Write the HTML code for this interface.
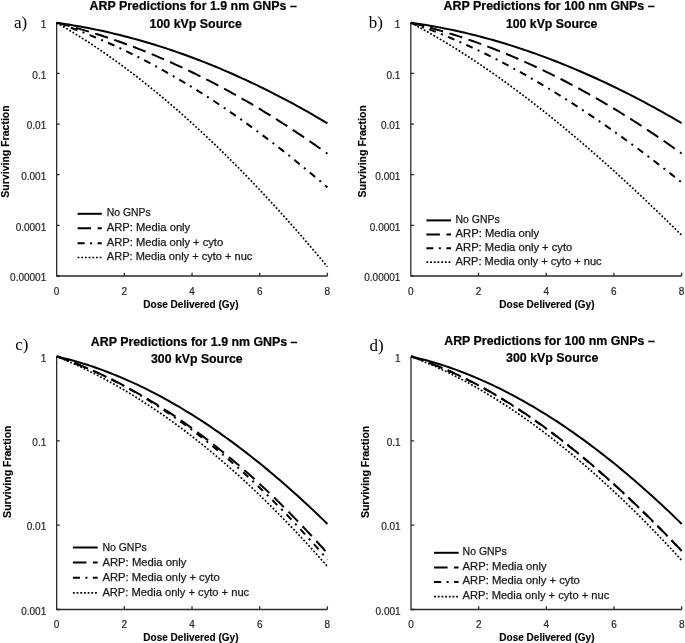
<!DOCTYPE html><html><head><meta charset="utf-8"><style>html,body{margin:0;padding:0;background:#fff;}svg{display:block;filter:blur(0.35px);}</style></head><body>
<svg width="685" height="643" viewBox="0 0 685 643">
<rect width="685" height="643" fill="#fff"/>
<style>.tl{font:10px "Liberation Sans",sans-serif;fill:#262626;stroke:#262626;stroke-width:0.2px}.lg{font:10.5px "Liberation Sans",sans-serif;fill:#1a1a1a;stroke:#1a1a1a;stroke-width:0.25px}.tt{font:bold 12px "Liberation Sans",sans-serif;fill:#000;stroke:#000;stroke-width:0.2px}.at{font:bold 10.6px "Liberation Sans",sans-serif;fill:#000;stroke:#000;stroke-width:0.15px}.pl{font:17px "Liberation Serif",serif;fill:#000}</style>
<g><path d="M56.65 22.80V276.00H327.40" fill="none" stroke="#2b2b2b" stroke-width="1.3"/><path d="M56.65 22.80h3.2 M56.65 73.44h3.2 M56.65 124.08h3.2 M56.65 174.72h3.2 M56.65 225.36h3.2 M56.65 276.00h3.2 M124.34 276.00v-3.2 M192.03 276.00v-3.2 M259.71 276.00v-3.2 M327.40 276.00v-3.2" stroke="#2b2b2b" stroke-width="1.3"/><text x="46.25" y="28.10" text-anchor="end" class="tl">1</text><text x="46.25" y="78.74" text-anchor="end" class="tl">0.1</text><text x="46.25" y="129.38" text-anchor="end" class="tl">0.01</text><text x="46.25" y="180.02" text-anchor="end" class="tl">0.001</text><text x="46.25" y="230.66" text-anchor="end" class="tl">0.0001</text><text x="46.25" y="281.30" text-anchor="end" class="tl">0.00001</text><text x="56.65" y="294.90" text-anchor="middle" class="tl">0</text><text x="124.34" y="294.90" text-anchor="middle" class="tl">2</text><text x="192.03" y="294.90" text-anchor="middle" class="tl">4</text><text x="259.71" y="294.90" text-anchor="middle" class="tl">6</text><text x="327.40" y="294.90" text-anchor="middle" class="tl">8</text><path d="M56.65 22.80 L60.03 23.28 L63.42 23.78 L66.80 24.29 L70.19 24.83 L73.57 25.39 L76.96 25.97 L80.34 26.57 L83.72 27.19 L87.11 27.83 L90.49 28.49 L93.88 29.16 L97.26 29.86 L100.65 30.58 L104.03 31.32 L107.42 32.08 L110.80 32.86 L114.18 33.66 L117.57 34.48 L120.95 35.32 L124.34 36.18 L127.72 37.05 L131.11 37.95 L134.49 38.87 L137.88 39.81 L141.26 40.77 L144.64 41.74 L148.03 42.74 L151.41 43.76 L154.80 44.79 L158.18 45.85 L161.57 46.92 L164.95 48.02 L168.33 49.14 L171.72 50.27 L175.10 51.42 L178.49 52.60 L181.87 53.79 L185.26 55.00 L188.64 56.24 L192.03 57.49 L195.41 58.76 L198.79 60.05 L202.18 61.36 L205.56 62.69 L208.95 64.04 L212.33 65.40 L215.72 66.79 L219.10 68.20 L222.48 69.62 L225.87 71.07 L229.25 72.53 L232.64 74.02 L236.02 75.52 L239.41 77.04 L242.79 78.58 L246.17 80.14 L249.56 81.72 L252.94 83.32 L256.33 84.94 L259.71 86.58 L263.10 88.23 L266.48 89.91 L269.87 91.60 L273.25 93.31 L276.63 95.04 L280.02 96.79 L283.40 98.56 L286.79 100.35 L290.17 102.16 L293.56 103.99 L296.94 105.83 L300.32 107.69 L303.71 109.58 L307.09 111.48 L310.48 113.40 L313.86 115.34 L317.25 117.30 L320.63 119.27 L324.02 121.27 L327.40 123.28" fill="none" stroke="#000" stroke-width="2" stroke-dashoffset="0"/><path d="M56.65 22.80 L60.03 23.64 L63.42 24.50 L66.80 25.39 L70.19 26.29 L73.57 27.21 L76.96 28.16 L80.34 29.12 L83.72 30.10 L87.11 31.11 L90.49 32.13 L93.88 33.18 L97.26 34.24 L100.65 35.32 L104.03 36.43 L107.42 37.55 L110.80 38.70 L114.18 39.87 L117.57 41.05 L120.95 42.26 L124.34 43.48 L127.72 44.73 L131.11 46.00 L134.49 47.28 L137.88 48.59 L141.26 49.91 L144.64 51.26 L148.03 52.63 L151.41 54.02 L154.80 55.42 L158.18 56.85 L161.57 58.30 L164.95 59.76 L168.33 61.25 L171.72 62.76 L175.10 64.29 L178.49 65.83 L181.87 67.40 L185.26 68.99 L188.64 70.60 L192.03 72.23 L195.41 73.87 L198.79 75.54 L202.18 77.23 L205.56 78.94 L208.95 80.67 L212.33 82.41 L215.72 84.18 L219.10 85.97 L222.48 87.78 L225.87 89.61 L229.25 91.45 L232.64 93.32 L236.02 95.21 L239.41 97.12 L242.79 99.05 L246.17 100.99 L249.56 102.96 L252.94 104.95 L256.33 106.96 L259.71 108.98 L263.10 111.03 L266.48 113.10 L269.87 115.19 L273.25 117.29 L276.63 119.42 L280.02 121.57 L283.40 123.73 L286.79 125.92 L290.17 128.13 L293.56 130.35 L296.94 132.60 L300.32 134.86 L303.71 137.15 L307.09 139.46 L310.48 141.78 L313.86 144.13 L317.25 146.49 L320.63 148.88 L324.02 151.28 L327.40 153.71" fill="none" stroke="#000" stroke-width="2" stroke-dasharray="13.534 6.516" stroke-dashoffset="0.1"/><path d="M56.65 22.80 L60.03 23.94 L63.42 25.11 L66.80 26.30 L70.19 27.51 L73.57 28.75 L76.96 30.02 L80.34 31.31 L83.72 32.62 L87.11 33.96 L90.49 35.32 L93.88 36.71 L97.26 38.12 L100.65 39.55 L104.03 41.01 L107.42 42.50 L110.80 44.00 L114.18 45.53 L117.57 47.09 L120.95 48.67 L124.34 50.27 L127.72 51.90 L131.11 53.54 L134.49 55.22 L137.88 56.91 L141.26 58.63 L144.64 60.38 L148.03 62.14 L151.41 63.93 L154.80 65.75 L158.18 67.58 L161.57 69.44 L164.95 71.32 L168.33 73.23 L171.72 75.15 L175.10 77.11 L178.49 79.08 L181.87 81.07 L185.26 83.09 L188.64 85.13 L192.03 87.20 L195.41 89.28 L198.79 91.39 L202.18 93.52 L205.56 95.67 L208.95 97.84 L212.33 100.04 L215.72 102.26 L219.10 104.50 L222.48 106.76 L225.87 109.05 L229.25 111.35 L232.64 113.68 L236.02 116.03 L239.41 118.40 L242.79 120.79 L246.17 123.20 L249.56 125.64 L252.94 128.09 L256.33 130.57 L259.71 133.07 L263.10 135.59 L266.48 138.13 L269.87 140.69 L273.25 143.27 L276.63 145.88 L280.02 148.50 L283.40 151.14 L286.79 153.81 L290.17 156.50 L293.56 159.20 L296.94 161.93 L300.32 164.68 L303.71 167.44 L307.09 170.23 L310.48 173.04 L313.86 175.87 L317.25 178.72 L320.63 181.58 L324.02 184.47 L327.40 187.38" fill="none" stroke="#000" stroke-width="2" stroke-dasharray="7.018 5.514 2.005 5.514" stroke-dashoffset="5.0"/><path d="M56.65 22.80 L60.03 24.74 L63.42 26.72 L66.80 28.72 L70.19 30.75 L73.57 32.81 L76.96 34.91 L80.34 37.03 L83.72 39.18 L87.11 41.36 L90.49 43.57 L93.88 45.81 L97.26 48.08 L100.65 50.38 L104.03 52.71 L107.42 55.06 L110.80 57.45 L114.18 59.86 L117.57 62.31 L120.95 64.78 L124.34 67.28 L127.72 69.81 L131.11 72.37 L134.49 74.95 L137.88 77.57 L141.26 80.21 L144.64 82.88 L148.03 85.58 L151.41 88.30 L154.80 91.06 L158.18 93.84 L161.57 96.65 L164.95 99.49 L168.33 102.36 L171.72 105.25 L175.10 108.17 L178.49 111.12 L181.87 114.09 L185.26 117.10 L188.64 120.13 L192.03 123.18 L195.41 126.27 L198.79 129.38 L202.18 132.51 L205.56 135.68 L208.95 138.87 L212.33 142.09 L215.72 145.33 L219.10 148.60 L222.48 151.90 L225.87 155.22 L229.25 158.57 L232.64 161.95 L236.02 165.35 L239.41 168.78 L242.79 172.23 L246.17 175.71 L249.56 179.21 L252.94 182.74 L256.33 186.30 L259.71 189.88 L263.10 193.49 L266.48 197.12 L269.87 200.78 L273.25 204.46 L276.63 208.17 L280.02 211.90 L283.40 215.66 L286.79 219.44 L290.17 223.24 L293.56 227.08 L296.94 230.93 L300.32 234.81 L303.71 238.72 L307.09 242.65 L310.48 246.60 L313.86 250.58 L317.25 254.58 L320.63 258.61 L324.02 262.66 L327.40 266.73" fill="none" stroke="#000" stroke-width="1.7" stroke-dasharray="1.8 1.89" stroke-dashoffset="0"/><path d="M77.60 213.80H101.80" stroke="#000" stroke-width="2"/><text x="106.80" y="216.10" class="lg" textLength="43.90" lengthAdjust="spacingAndGlyphs">No GNPs</text><path d="M77.60 228.30H101.80" stroke="#000" stroke-width="2" stroke-dasharray="13.5 6.5"/><text x="106.80" y="230.60" class="lg" textLength="83.40" lengthAdjust="spacingAndGlyphs">ARP: Media only</text><path d="M77.60 243.20H101.80" stroke="#000" stroke-width="2" stroke-dasharray="7 5.5 2 5.5"/><text x="106.80" y="245.50" class="lg" textLength="116.40" lengthAdjust="spacingAndGlyphs">ARP: Media only + cyto</text><path d="M77.60 257.50H101.80" stroke="#000" stroke-width="1.7" stroke-dasharray="1.8 1.89"/><text x="106.80" y="259.80" class="lg" textLength="145.60" lengthAdjust="spacingAndGlyphs">ARP: Media only + cyto + nuc</text><text x="89.50" y="10.30" class="tt" textLength="207.30" lengthAdjust="spacingAndGlyphs">ARP Predictions for 1.9 nm GNPs –</text><text x="149.60" y="27.70" class="tt" textLength="92.20" lengthAdjust="spacingAndGlyphs">100 kVp Source</text><text transform="translate(9.30 151.50) rotate(-90)" x="0" y="0" text-anchor="middle" class="at" textLength="92.4" lengthAdjust="spacingAndGlyphs">Surviving Fraction</text><text x="143.30" y="308.10" class="at" textLength="95.2" lengthAdjust="spacingAndGlyphs">Dose Delivered (Gy)</text><text x="14.00" y="27.60" class="pl">a)</text></g>
<g><path d="M410.80 22.80V276.00H681.60" fill="none" stroke="#2b2b2b" stroke-width="1.3"/><path d="M410.80 22.80h3.2 M410.80 73.44h3.2 M410.80 124.08h3.2 M410.80 174.72h3.2 M410.80 225.36h3.2 M410.80 276.00h3.2 M478.50 276.00v-3.2 M546.20 276.00v-3.2 M613.90 276.00v-3.2 M681.60 276.00v-3.2" stroke="#2b2b2b" stroke-width="1.3"/><text x="400.40" y="28.10" text-anchor="end" class="tl">1</text><text x="400.40" y="78.74" text-anchor="end" class="tl">0.1</text><text x="400.40" y="129.38" text-anchor="end" class="tl">0.01</text><text x="400.40" y="180.02" text-anchor="end" class="tl">0.001</text><text x="400.40" y="230.66" text-anchor="end" class="tl">0.0001</text><text x="400.40" y="281.30" text-anchor="end" class="tl">0.00001</text><text x="410.80" y="294.90" text-anchor="middle" class="tl">0</text><text x="478.50" y="294.90" text-anchor="middle" class="tl">2</text><text x="546.20" y="294.90" text-anchor="middle" class="tl">4</text><text x="613.90" y="294.90" text-anchor="middle" class="tl">6</text><text x="681.60" y="294.90" text-anchor="middle" class="tl">8</text><path d="M410.80 22.80 L414.19 23.27 L417.57 23.76 L420.95 24.27 L424.34 24.80 L427.73 25.35 L431.11 25.93 L434.50 26.52 L437.88 27.14 L441.26 27.77 L444.65 28.43 L448.04 29.11 L451.42 29.81 L454.81 30.53 L458.19 31.27 L461.58 32.04 L464.96 32.82 L468.35 33.62 L471.73 34.44 L475.12 35.29 L478.50 36.15 L481.88 37.04 L485.27 37.94 L488.66 38.87 L492.04 39.81 L495.43 40.78 L498.81 41.76 L502.20 42.77 L505.58 43.79 L508.97 44.84 L512.35 45.90 L515.74 46.99 L519.12 48.09 L522.50 49.21 L525.89 50.36 L529.27 51.52 L532.66 52.70 L536.05 53.90 L539.43 55.12 L542.82 56.36 L546.20 57.62 L549.59 58.90 L552.97 60.20 L556.36 61.52 L559.74 62.85 L563.12 64.21 L566.51 65.58 L569.89 66.97 L573.28 68.38 L576.66 69.81 L580.05 71.26 L583.43 72.73 L586.82 74.21 L590.21 75.72 L593.59 77.24 L596.98 78.78 L600.36 80.34 L603.75 81.91 L607.13 83.51 L610.52 85.12 L613.90 86.75 L617.28 88.40 L620.67 90.07 L624.06 91.76 L627.44 93.46 L630.83 95.18 L634.21 96.92 L637.60 98.68 L640.98 100.45 L644.37 102.24 L647.75 104.05 L651.13 105.88 L654.52 107.72 L657.90 109.58 L661.29 111.46 L664.67 113.36 L668.06 115.27 L671.45 117.20 L674.83 119.15 L678.22 121.11 L681.60 123.09" fill="none" stroke="#000" stroke-width="2" stroke-dashoffset="0"/><path d="M410.80 22.80 L414.19 23.62 L417.57 24.46 L420.95 25.31 L424.34 26.19 L427.73 27.10 L431.11 28.02 L434.50 28.96 L437.88 29.93 L441.26 30.91 L444.65 31.92 L448.04 32.95 L451.42 34.00 L454.81 35.06 L458.19 36.15 L461.58 37.27 L464.96 38.40 L468.35 39.55 L471.73 40.73 L475.12 41.92 L478.50 43.14 L481.88 44.37 L485.27 45.63 L488.66 46.91 L492.04 48.21 L495.43 49.53 L498.81 50.87 L502.20 52.23 L505.58 53.61 L508.97 55.01 L512.35 56.43 L515.74 57.88 L519.12 59.34 L522.50 60.83 L525.89 62.33 L529.27 63.86 L532.66 65.40 L536.05 66.97 L539.43 68.56 L542.82 70.17 L546.20 71.80 L549.59 73.44 L552.97 75.11 L556.36 76.80 L559.74 78.51 L563.12 80.24 L566.51 81.99 L569.89 83.77 L573.28 85.56 L576.66 87.37 L580.05 89.20 L583.43 91.05 L586.82 92.93 L590.21 94.82 L593.59 96.73 L596.98 98.67 L600.36 100.62 L603.75 102.59 L607.13 104.59 L610.52 106.60 L613.90 108.63 L617.28 110.69 L620.67 112.76 L624.06 114.86 L627.44 116.97 L630.83 119.11 L634.21 121.26 L637.60 123.43 L640.98 125.63 L644.37 127.84 L647.75 130.08 L651.13 132.33 L654.52 134.60 L657.90 136.90 L661.29 139.21 L664.67 141.55 L668.06 143.90 L671.45 146.27 L674.83 148.67 L678.22 151.08 L681.60 153.51" fill="none" stroke="#000" stroke-width="2" stroke-dasharray="13.534 6.516" stroke-dashoffset="0.1"/><path d="M410.80 22.80 L414.19 23.96 L417.57 25.14 L420.95 26.35 L424.34 27.58 L427.73 28.83 L431.11 30.11 L434.50 31.42 L437.88 32.74 L441.26 34.10 L444.65 35.47 L448.04 36.87 L451.42 38.29 L454.81 39.74 L458.19 41.21 L461.58 42.70 L464.96 44.21 L468.35 45.75 L471.73 47.31 L475.12 48.89 L478.50 50.50 L481.88 52.12 L485.27 53.77 L488.66 55.44 L492.04 57.13 L495.43 58.85 L498.81 60.58 L502.20 62.34 L505.58 64.12 L508.97 65.92 L512.35 67.74 L515.74 69.58 L519.12 71.44 L522.50 73.32 L525.89 75.22 L529.27 77.14 L532.66 79.09 L536.05 81.05 L539.43 83.03 L542.82 85.03 L546.20 87.06 L549.59 89.10 L552.97 91.16 L556.36 93.24 L559.74 95.34 L563.12 97.45 L566.51 99.59 L569.89 101.75 L573.28 103.92 L576.66 106.11 L580.05 108.32 L583.43 110.55 L586.82 112.79 L590.21 115.06 L593.59 117.34 L596.98 119.64 L600.36 121.96 L603.75 124.29 L607.13 126.64 L610.52 129.01 L613.90 131.39 L617.28 133.80 L620.67 136.21 L624.06 138.65 L627.44 141.10 L630.83 143.57 L634.21 146.05 L637.60 148.55 L640.98 151.06 L644.37 153.59 L647.75 156.14 L651.13 158.70 L654.52 161.28 L657.90 163.87 L661.29 166.48 L664.67 169.10 L668.06 171.73 L671.45 174.38 L674.83 177.05 L678.22 179.73 L681.60 182.42" fill="none" stroke="#000" stroke-width="2" stroke-dasharray="7.018 5.514 2.005 5.514" stroke-dashoffset="0.42"/><path d="M410.80 22.80 L414.19 24.59 L417.57 26.41 L420.95 28.25 L424.34 30.12 L427.73 32.02 L431.11 33.94 L434.50 35.89 L437.88 37.86 L441.26 39.86 L444.65 41.88 L448.04 43.92 L451.42 45.99 L454.81 48.09 L458.19 50.21 L461.58 52.35 L464.96 54.52 L468.35 56.71 L471.73 58.92 L475.12 61.16 L478.50 63.42 L481.88 65.70 L485.27 68.00 L488.66 70.33 L492.04 72.68 L495.43 75.06 L498.81 77.45 L502.20 79.87 L505.58 82.31 L508.97 84.77 L512.35 87.25 L515.74 89.76 L519.12 92.28 L522.50 94.83 L525.89 97.40 L529.27 99.98 L532.66 102.59 L536.05 105.22 L539.43 107.87 L542.82 110.54 L546.20 113.23 L549.59 115.93 L552.97 118.66 L556.36 121.41 L559.74 124.18 L563.12 126.96 L566.51 129.77 L569.89 132.59 L573.28 135.43 L576.66 138.29 L580.05 141.17 L583.43 144.06 L586.82 146.98 L590.21 149.91 L593.59 152.86 L596.98 155.83 L600.36 158.81 L603.75 161.81 L607.13 164.83 L610.52 167.87 L613.90 170.92 L617.28 173.98 L620.67 177.07 L624.06 180.17 L627.44 183.28 L630.83 186.42 L634.21 189.56 L637.60 192.73 L640.98 195.90 L644.37 199.10 L647.75 202.31 L651.13 205.53 L654.52 208.77 L657.90 212.02 L661.29 215.28 L664.67 218.56 L668.06 221.86 L671.45 225.17 L674.83 228.49 L678.22 231.82 L681.60 235.17" fill="none" stroke="#000" stroke-width="1.7" stroke-dasharray="1.8 1.89" stroke-dashoffset="0"/><path d="M426.40 220.40H451.00" stroke="#000" stroke-width="2"/><text x="455.60" y="222.70" class="lg" textLength="44.02" lengthAdjust="spacingAndGlyphs">No GNPs</text><path d="M426.40 234.40H451.00" stroke="#000" stroke-width="2" stroke-dasharray="13.5 6.5"/><text x="455.60" y="236.70" class="lg" textLength="83.63" lengthAdjust="spacingAndGlyphs">ARP: Media only</text><path d="M426.40 248.20H451.00" stroke="#000" stroke-width="2" stroke-dasharray="7 5.5 2 5.5"/><text x="455.60" y="250.50" class="lg" textLength="116.72" lengthAdjust="spacingAndGlyphs">ARP: Media only + cyto</text><path d="M426.40 262.20H451.00" stroke="#000" stroke-width="1.7" stroke-dasharray="1.8 1.89"/><text x="455.60" y="264.50" class="lg" textLength="146.00" lengthAdjust="spacingAndGlyphs">ARP: Media only + cyto + nuc</text><text x="443.60" y="10.30" class="tt" textLength="211.00" lengthAdjust="spacingAndGlyphs">ARP Predictions for 100 nm GNPs –</text><text x="505.90" y="27.60" class="tt" textLength="91.50" lengthAdjust="spacingAndGlyphs">100 kVp Source</text><text transform="translate(365.50 151.30) rotate(-90)" x="0" y="0" text-anchor="middle" class="at" textLength="92.4" lengthAdjust="spacingAndGlyphs">Surviving Fraction</text><text x="499.30" y="307.90" class="at" textLength="95.2" lengthAdjust="spacingAndGlyphs">Dose Delivered (Gy)</text><text x="368.80" y="27.70" class="pl">b)</text></g>
<g><path d="M56.65 356.50V609.50H327.40" fill="none" stroke="#2b2b2b" stroke-width="1.3"/><path d="M56.65 356.50h3.2 M56.65 440.83h3.2 M56.65 525.17h3.2 M56.65 609.50h3.2 M124.34 609.50v-3.2 M192.03 609.50v-3.2 M259.71 609.50v-3.2 M327.40 609.50v-3.2" stroke="#2b2b2b" stroke-width="1.3"/><text x="46.25" y="361.80" text-anchor="end" class="tl">1</text><text x="46.25" y="446.13" text-anchor="end" class="tl">0.1</text><text x="46.25" y="530.47" text-anchor="end" class="tl">0.01</text><text x="46.25" y="614.80" text-anchor="end" class="tl">0.001</text><text x="56.65" y="628.40" text-anchor="middle" class="tl">0</text><text x="124.34" y="628.40" text-anchor="middle" class="tl">2</text><text x="192.03" y="628.40" text-anchor="middle" class="tl">4</text><text x="259.71" y="628.40" text-anchor="middle" class="tl">6</text><text x="327.40" y="628.40" text-anchor="middle" class="tl">8</text><path d="M56.65 356.50 L60.03 357.28 L63.42 358.10 L66.80 358.96 L70.19 359.84 L73.57 360.77 L76.96 361.73 L80.34 362.73 L83.72 363.76 L87.11 364.82 L90.49 365.92 L93.88 367.06 L97.26 368.23 L100.65 369.43 L104.03 370.67 L107.42 371.95 L110.80 373.26 L114.18 374.60 L117.57 375.97 L120.95 377.39 L124.34 378.83 L127.72 380.31 L131.11 381.82 L134.49 383.37 L137.88 384.95 L141.26 386.56 L144.64 388.21 L148.03 389.89 L151.41 391.60 L154.80 393.35 L158.18 395.12 L161.57 396.94 L164.95 398.78 L168.33 400.66 L171.72 402.57 L175.10 404.51 L178.49 406.48 L181.87 408.49 L185.26 410.53 L188.64 412.60 L192.03 414.70 L195.41 416.84 L198.79 419.01 L202.18 421.21 L205.56 423.44 L208.95 425.70 L212.33 427.99 L215.72 430.31 L219.10 432.67 L222.48 435.06 L225.87 437.47 L229.25 439.92 L232.64 442.40 L236.02 444.91 L239.41 447.45 L242.79 450.02 L246.17 452.62 L249.56 455.26 L252.94 457.92 L256.33 460.61 L259.71 463.33 L263.10 466.08 L266.48 468.87 L269.87 471.68 L273.25 474.52 L276.63 477.39 L280.02 480.29 L283.40 483.22 L286.79 486.18 L290.17 489.16 L293.56 492.18 L296.94 495.23 L300.32 498.30 L303.71 501.40 L307.09 504.54 L310.48 507.70 L313.86 510.88 L317.25 514.10 L320.63 517.35 L324.02 520.62 L327.40 523.92" fill="none" stroke="#000" stroke-width="2" stroke-dashoffset="0"/><path d="M56.65 356.50 L60.03 357.67 L63.42 358.86 L66.80 360.09 L70.19 361.35 L73.57 362.64 L76.96 363.97 L80.34 365.32 L83.72 366.71 L87.11 368.13 L90.49 369.59 L93.88 371.07 L97.26 372.59 L100.65 374.14 L104.03 375.72 L107.42 377.33 L110.80 378.98 L114.18 380.66 L117.57 382.37 L120.95 384.11 L124.34 385.88 L127.72 387.69 L131.11 389.53 L134.49 391.41 L137.88 393.31 L141.26 395.25 L144.64 397.22 L148.03 399.22 L151.41 401.26 L154.80 403.33 L158.18 405.43 L161.57 407.57 L164.95 409.74 L168.33 411.94 L171.72 414.17 L175.10 416.44 L178.49 418.74 L181.87 421.07 L185.26 423.44 L188.64 425.84 L192.03 428.27 L195.41 430.74 L198.79 433.24 L202.18 435.77 L205.56 438.34 L208.95 440.94 L212.33 443.57 L215.72 446.24 L219.10 448.94 L222.48 451.68 L225.87 454.44 L229.25 457.25 L232.64 460.08 L236.02 462.95 L239.41 465.85 L242.79 468.79 L246.17 471.76 L249.56 474.77 L252.94 477.80 L256.33 480.88 L259.71 483.98 L263.10 487.13 L266.48 490.30 L269.87 493.51 L273.25 496.75 L276.63 500.03 L280.02 503.34 L283.40 506.69 L286.79 510.07 L290.17 513.48 L293.56 516.93 L296.94 520.42 L300.32 523.94 L303.71 527.49 L307.09 531.08 L310.48 534.70 L313.86 538.36 L317.25 542.05 L320.63 545.77 L324.02 549.53 L327.40 553.33" fill="none" stroke="#000" stroke-width="2" stroke-dasharray="13.635 6.565" stroke-dashoffset="1.33"/><path d="M56.65 356.50 L60.03 357.66 L63.42 358.85 L66.80 360.07 L70.19 361.33 L73.57 362.63 L76.96 363.96 L80.34 365.32 L83.72 366.72 L87.11 368.16 L90.49 369.63 L93.88 371.13 L97.26 372.67 L100.65 374.24 L104.03 375.85 L107.42 377.50 L110.80 379.18 L114.18 380.89 L117.57 382.64 L120.95 384.43 L124.34 386.24 L127.72 388.10 L131.11 389.99 L134.49 391.91 L137.88 393.87 L141.26 395.87 L144.64 397.90 L148.03 399.96 L151.41 402.06 L154.80 404.19 L158.18 406.36 L161.57 408.57 L164.95 410.81 L168.33 413.08 L171.72 415.39 L175.10 417.73 L178.49 420.11 L181.87 422.53 L185.26 424.98 L188.64 427.46 L192.03 429.98 L195.41 432.54 L198.79 435.13 L202.18 437.75 L205.56 440.41 L208.95 443.11 L212.33 445.84 L215.72 448.60 L219.10 451.40 L222.48 454.24 L225.87 457.11 L229.25 460.01 L232.64 462.95 L236.02 465.93 L239.41 468.94 L242.79 471.99 L246.17 475.07 L249.56 478.18 L252.94 481.34 L256.33 484.52 L259.71 487.74 L263.10 491.00 L266.48 494.29 L269.87 497.62 L273.25 500.98 L276.63 504.38 L280.02 507.81 L283.40 511.28 L286.79 514.78 L290.17 518.32 L293.56 521.89 L296.94 525.50 L300.32 529.14 L303.71 532.82 L307.09 536.54 L310.48 540.29 L313.86 544.07 L317.25 547.89 L320.63 551.75 L324.02 555.64 L327.40 559.56" fill="none" stroke="#000" stroke-width="2" stroke-dasharray="7.070 5.555 2.020 5.555" stroke-dashoffset="1.24"/><path d="M56.65 356.50 L60.03 357.88 L63.42 359.29 L66.80 360.74 L70.19 362.21 L73.57 363.72 L76.96 365.26 L80.34 366.83 L83.72 368.43 L87.11 370.07 L90.49 371.73 L93.88 373.43 L97.26 375.16 L100.65 376.92 L104.03 378.72 L107.42 380.54 L110.80 382.40 L114.18 384.29 L117.57 386.21 L120.95 388.16 L124.34 390.14 L127.72 392.16 L131.11 394.21 L134.49 396.28 L137.88 398.39 L141.26 400.54 L144.64 402.71 L148.03 404.91 L151.41 407.15 L154.80 409.42 L158.18 411.72 L161.57 414.05 L164.95 416.41 L168.33 418.80 L171.72 421.23 L175.10 423.68 L178.49 426.17 L181.87 428.69 L185.26 431.24 L188.64 433.82 L192.03 436.44 L195.41 439.08 L198.79 441.75 L202.18 444.46 L205.56 447.20 L208.95 449.97 L212.33 452.77 L215.72 455.60 L219.10 458.46 L222.48 461.36 L225.87 464.28 L229.25 467.24 L232.64 470.23 L236.02 473.25 L239.41 476.30 L242.79 479.38 L246.17 482.49 L249.56 485.63 L252.94 488.80 L256.33 492.01 L259.71 495.24 L263.10 498.51 L266.48 501.81 L269.87 505.14 L273.25 508.50 L276.63 511.89 L280.02 515.31 L283.40 518.76 L286.79 522.24 L290.17 525.76 L293.56 529.30 L296.94 532.88 L300.32 536.49 L303.71 540.12 L307.09 543.79 L310.48 547.49 L313.86 551.22 L317.25 554.98 L320.63 558.77 L324.02 562.59 L327.40 566.44" fill="none" stroke="#000" stroke-width="1.7" stroke-dasharray="1.8 1.89" stroke-dashoffset="0"/><path d="M72.90 547.50H97.70" stroke="#000" stroke-width="2"/><text x="102.40" y="550.70" class="lg" textLength="44.26" lengthAdjust="spacingAndGlyphs">No GNPs</text><path d="M72.90 562.50H97.70" stroke="#000" stroke-width="2" stroke-dasharray="13.5 6.5"/><text x="102.40" y="565.70" class="lg" textLength="84.09" lengthAdjust="spacingAndGlyphs">ARP: Media only</text><path d="M72.90 577.70H97.70" stroke="#000" stroke-width="2" stroke-dasharray="7 5.5 2 5.5"/><text x="102.40" y="580.90" class="lg" textLength="117.37" lengthAdjust="spacingAndGlyphs">ARP: Media only + cyto</text><path d="M72.90 592.80H97.70" stroke="#000" stroke-width="1.7" stroke-dasharray="1.8 1.89"/><text x="102.40" y="596.00" class="lg" textLength="146.81" lengthAdjust="spacingAndGlyphs">ARP: Media only + cyto + nuc</text><text x="90.80" y="345.50" class="tt" textLength="206.70" lengthAdjust="spacingAndGlyphs">ARP Predictions for 1.9 nm GNPs –</text><text x="151.00" y="362.90" class="tt" textLength="91.60" lengthAdjust="spacingAndGlyphs">300 kVp Source</text><text transform="translate(11.40 471.70) rotate(-90)" x="0" y="0" text-anchor="middle" class="at" textLength="92.4" lengthAdjust="spacingAndGlyphs">Surviving Fraction</text><text x="143.30" y="640.50" class="at" textLength="95.2" lengthAdjust="spacingAndGlyphs">Dose Delivered (Gy)</text><text x="15.20" y="350.30" class="pl">c)</text></g>
<g><path d="M411.00 356.50V609.50H681.70" fill="none" stroke="#2b2b2b" stroke-width="1.3"/><path d="M411.00 356.50h3.2 M411.00 440.83h3.2 M411.00 525.17h3.2 M411.00 609.50h3.2 M478.68 609.50v-3.2 M546.35 609.50v-3.2 M614.03 609.50v-3.2 M681.70 609.50v-3.2" stroke="#2b2b2b" stroke-width="1.3"/><text x="400.60" y="361.80" text-anchor="end" class="tl">1</text><text x="400.60" y="446.13" text-anchor="end" class="tl">0.1</text><text x="400.60" y="530.47" text-anchor="end" class="tl">0.01</text><text x="400.60" y="614.80" text-anchor="end" class="tl">0.001</text><text x="411.00" y="628.40" text-anchor="middle" class="tl">0</text><text x="478.68" y="628.40" text-anchor="middle" class="tl">2</text><text x="546.35" y="628.40" text-anchor="middle" class="tl">4</text><text x="614.03" y="628.40" text-anchor="middle" class="tl">6</text><text x="681.70" y="628.40" text-anchor="middle" class="tl">8</text><path d="M411.00 356.50 L414.38 357.28 L417.77 358.10 L421.15 358.96 L424.54 359.84 L427.92 360.77 L431.30 361.73 L434.69 362.73 L438.07 363.76 L441.45 364.82 L444.84 365.92 L448.22 367.06 L451.61 368.23 L454.99 369.43 L458.37 370.67 L461.76 371.95 L465.14 373.26 L468.52 374.60 L471.91 375.97 L475.29 377.39 L478.68 378.83 L482.06 380.31 L485.44 381.82 L488.83 383.37 L492.21 384.95 L495.59 386.56 L498.98 388.21 L502.36 389.89 L505.75 391.60 L509.13 393.35 L512.51 395.12 L515.90 396.94 L519.28 398.78 L522.66 400.66 L526.05 402.57 L529.43 404.51 L532.82 406.48 L536.20 408.49 L539.58 410.53 L542.97 412.60 L546.35 414.70 L549.73 416.84 L553.12 419.01 L556.50 421.21 L559.88 423.44 L563.27 425.70 L566.65 427.99 L570.04 430.31 L573.42 432.67 L576.80 435.06 L580.19 437.47 L583.57 439.92 L586.96 442.40 L590.34 444.91 L593.72 447.45 L597.11 450.02 L600.49 452.62 L603.87 455.26 L607.26 457.92 L610.64 460.61 L614.03 463.33 L617.41 466.08 L620.79 468.87 L624.18 471.68 L627.56 474.52 L630.94 477.39 L634.33 480.29 L637.71 483.22 L641.10 486.18 L644.48 489.16 L647.86 492.18 L651.25 495.23 L654.63 498.30 L658.01 501.40 L661.40 504.54 L664.78 507.70 L668.16 510.88 L671.55 514.10 L674.93 517.35 L678.32 520.62 L681.70 523.92" fill="none" stroke="#000" stroke-width="2" stroke-dashoffset="0"/><path d="M411.00 356.50 L414.38 357.58 L417.77 358.69 L421.15 359.85 L424.54 361.04 L427.92 362.27 L431.30 363.55 L434.69 364.86 L438.07 366.21 L441.45 367.60 L444.84 369.03 L448.22 370.49 L451.61 371.99 L454.99 373.54 L458.37 375.11 L461.76 376.73 L465.14 378.38 L468.52 380.07 L471.91 381.79 L475.29 383.55 L478.68 385.35 L482.06 387.19 L485.44 389.05 L488.83 390.96 L492.21 392.90 L495.59 394.87 L498.98 396.88 L502.36 398.92 L505.75 401.00 L509.13 403.11 L512.51 405.26 L515.90 407.44 L519.28 409.65 L522.66 411.89 L526.05 414.17 L529.43 416.48 L532.82 418.83 L536.20 421.20 L539.58 423.61 L542.97 426.05 L546.35 428.52 L549.73 431.02 L553.12 433.56 L556.50 436.12 L559.88 438.72 L563.27 441.35 L566.65 444.00 L570.04 446.69 L573.42 449.41 L576.80 452.15 L580.19 454.93 L583.57 457.73 L586.96 460.57 L590.34 463.43 L593.72 466.32 L597.11 469.24 L600.49 472.19 L603.87 475.16 L607.26 478.16 L610.64 481.20 L614.03 484.25 L617.41 487.34 L620.79 490.45 L624.18 493.59 L627.56 496.75 L630.94 499.94 L634.33 503.16 L637.71 506.40 L641.10 509.67 L644.48 512.96 L647.86 516.28 L651.25 519.62 L654.63 522.99 L658.01 526.38 L661.40 529.80 L664.78 533.24 L668.16 536.70 L671.55 540.19 L674.93 543.70 L678.32 547.23 L681.70 550.79" fill="none" stroke="#000" stroke-width="2" stroke-dasharray="13.635 6.565" stroke-dashoffset="1.32"/><path d="M411.00 356.50 L414.38 357.59 L417.77 358.73 L421.15 359.90 L424.54 361.11 L427.92 362.36 L431.30 363.65 L434.69 364.98 L438.07 366.34 L441.45 367.75 L444.84 369.19 L448.22 370.66 L451.61 372.18 L454.99 373.73 L458.37 375.32 L461.76 376.94 L465.14 378.61 L468.52 380.30 L471.91 382.04 L475.29 383.81 L478.68 385.61 L482.06 387.45 L485.44 389.33 L488.83 391.23 L492.21 393.18 L495.59 395.16 L498.98 397.17 L502.36 399.22 L505.75 401.30 L509.13 403.41 L512.51 405.56 L515.90 407.74 L519.28 409.96 L522.66 412.21 L526.05 414.48 L529.43 416.80 L532.82 419.14 L536.20 421.52 L539.58 423.93 L542.97 426.36 L546.35 428.84 L549.73 431.34 L553.12 433.87 L556.50 436.43 L559.88 439.03 L563.27 441.65 L566.65 444.31 L570.04 446.99 L573.42 449.71 L576.80 452.45 L580.19 455.22 L583.57 458.02 L586.96 460.85 L590.34 463.71 L593.72 466.60 L597.11 469.52 L600.49 472.46 L603.87 475.43 L607.26 478.43 L610.64 481.46 L614.03 484.51 L617.41 487.59 L620.79 490.70 L624.18 493.84 L627.56 497.00 L630.94 500.18 L634.33 503.40 L637.71 506.63 L641.10 509.90 L644.48 513.19 L647.86 516.50 L651.25 519.84 L654.63 523.20 L658.01 526.59 L661.40 530.01 L664.78 533.44 L668.16 536.90 L671.55 540.39 L674.93 543.89 L678.32 547.43 L681.70 550.98" fill="none" stroke="#000" stroke-width="2" stroke-dasharray="7.070 5.555 2.020 5.555" stroke-dashoffset="1.2"/><path d="M411.00 356.50 L414.38 357.79 L417.77 359.11 L421.15 360.47 L424.54 361.87 L427.92 363.30 L431.30 364.76 L434.69 366.26 L438.07 367.79 L441.45 369.35 L444.84 370.95 L448.22 372.58 L451.61 374.25 L454.99 375.95 L458.37 377.68 L461.76 379.45 L465.14 381.25 L468.52 383.08 L471.91 384.94 L475.29 386.84 L478.68 388.77 L482.06 390.74 L485.44 392.73 L488.83 394.76 L492.21 396.82 L495.59 398.91 L498.98 401.04 L502.36 403.20 L505.75 405.38 L509.13 407.60 L512.51 409.86 L515.90 412.14 L519.28 414.45 L522.66 416.80 L526.05 419.18 L529.43 421.59 L532.82 424.03 L536.20 426.50 L539.58 429.00 L542.97 431.53 L546.35 434.09 L549.73 436.68 L553.12 439.31 L556.50 441.96 L559.88 444.64 L563.27 447.36 L566.65 450.10 L570.04 452.87 L573.42 455.67 L576.80 458.50 L580.19 461.37 L583.57 464.26 L586.96 467.18 L590.34 470.12 L593.72 473.10 L597.11 476.11 L600.49 479.14 L603.87 482.21 L607.26 485.30 L610.64 488.42 L614.03 491.57 L617.41 494.75 L620.79 497.95 L624.18 501.19 L627.56 504.45 L630.94 507.74 L634.33 511.05 L637.71 514.40 L641.10 517.77 L644.48 521.17 L647.86 524.60 L651.25 528.05 L654.63 531.53 L658.01 535.04 L661.40 538.57 L664.78 542.13 L668.16 545.72 L671.55 549.33 L674.93 552.97 L678.32 556.64 L681.70 560.33" fill="none" stroke="#000" stroke-width="1.7" stroke-dasharray="1.8 1.89" stroke-dashoffset="0"/><path d="M434.10 552.80H458.60" stroke="#000" stroke-width="2"/><text x="462.60" y="555.10" class="lg" textLength="44.20" lengthAdjust="spacingAndGlyphs">No GNPs</text><path d="M434.10 567.40H458.60" stroke="#000" stroke-width="2" stroke-dasharray="13.5 6.5"/><text x="462.60" y="569.70" class="lg" textLength="83.98" lengthAdjust="spacingAndGlyphs">ARP: Media only</text><path d="M434.10 582.00H458.60" stroke="#000" stroke-width="2" stroke-dasharray="7 5.5 2 5.5"/><text x="462.60" y="584.30" class="lg" textLength="117.21" lengthAdjust="spacingAndGlyphs">ARP: Media only + cyto</text><path d="M434.10 596.60H458.60" stroke="#000" stroke-width="1.7" stroke-dasharray="1.8 1.89"/><text x="462.60" y="598.90" class="lg" textLength="146.61" lengthAdjust="spacingAndGlyphs">ARP: Media only + cyto + nuc</text><text x="444.20" y="344.70" class="tt" textLength="210.60" lengthAdjust="spacingAndGlyphs">ARP Predictions for 100 nm GNPs –</text><text x="506.00" y="362.20" class="tt" textLength="92.40" lengthAdjust="spacingAndGlyphs">300 kVp Source</text><text transform="translate(368.70 471.90) rotate(-90)" x="0" y="0" text-anchor="middle" class="at" textLength="92.4" lengthAdjust="spacingAndGlyphs">Surviving Fraction</text><text x="499.30" y="640.50" class="at" textLength="95.2" lengthAdjust="spacingAndGlyphs">Dose Delivered (Gy)</text><text x="369.50" y="350.50" class="pl">d)</text></g>
</svg></body></html>
